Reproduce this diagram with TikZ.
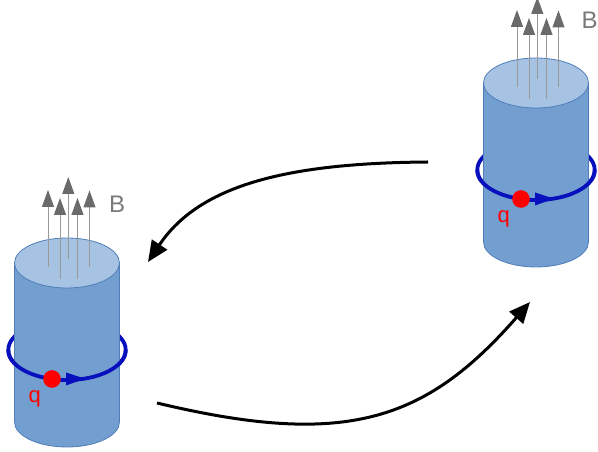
\documentclass[tikz,border=0pt]{standalone}
\usepackage{fontspec}
\setmainfont{Liberation Sans}
\usetikzlibrary{arrows.meta}
\definecolor{cylbody}{HTML}{729FCF}
\definecolor{cyltop}{HTML}{A7C3E4}
\definecolor{cyledge}{HTML}{4F7DBA}
\definecolor{ringblue}{RGB}{8,16,190}
\definecolor{fieldshaft}{HTML}{999999}
\definecolor{fieldhead}{HTML}{6A6A6A}
\definecolor{labelgray}{HTML}{7A7A7A}
\tikzset{
  bodystyle/.style={fill=cylbody, draw=cyledge, line width=0.8pt},
  topstyle/.style={fill=cyltop, draw=cyledge, line width=0.8pt},
  ringstyle/.style={draw=ringblue, line width=3.8pt},
  fieldarrow/.style={draw=fieldshaft, line width=1pt,
    -{Triangle[length=17pt,width=12pt,color=fieldhead]}},
  chargedot/.style={fill=red},
  chargelabel/.style={text=red, font=\fontsize{22}{25}\selectfont, anchor=base west, inner sep=0pt},
  fieldlabel/.style={text=labelgray, font=\fontsize{24}{27}\selectfont, anchor=base west, inner sep=0pt},
  curvearrow/.style={draw=black, line width=3pt, -{Triangle[length=21pt,width=18pt]}},
  magcyl/.pic={
    % back part of the ring
    \draw[ringstyle] (0,102) ellipse [x radius=58.7, y radius=30];
    % body
    \path[bodystyle] (-52.5,189) -- (-52.5,30)
      arc[start angle=180, end angle=360, x radius=52.5, y radius=25]
      -- (52.5,189) -- cycle;
    % top face
    \path[topstyle] (0,189) ellipse [x radius=52.5, y radius=25];
    % front part of the ring
    \draw[ringstyle] (-58.7,102)
      arc[start angle=180, end angle=360, x radius=58.7, y radius=30];
    \fill[ringblue] (-1,79.5) -- (18,73.3) -- (-1,66.5) -- cycle;
    \fill[chargedot] (-15,73) circle [radius=8.8];
    \node[chargelabel] (-q) at (-38.5,49.3) {q};
    % field lines
    \coordinate (-f1s) at (-19,185);  \coordinate (-f1e) at (-19,262);
    \coordinate (-f2s) at (-7,173);   \coordinate (-f2e) at (-7,254);
    \coordinate (-f3s) at (1.3,193);  \coordinate (-f3e) at (1.3,275);
    \coordinate (-f4s) at (10.5,173); \coordinate (-f4e) at (10.5,254);
    \coordinate (-f5s) at (22.5,185); \coordinate (-f5e) at (22.5,261.5);
    \foreach \k in {1,...,5} { \draw[fieldarrow] (-f\k s) -- (-f\k e); }
  }
}
\begin{document}
\begin{tikzpicture}[x=1pt,y=1pt]
  \useasboundingbox (0,0) rectangle (598,452);
  \pic (L) at (67,0) {magcyl};
  \pic (R) at (536,180) {magcyl};
  \node[fieldlabel] (BL) at (109,239.3) {B};
  \node[fieldlabel] (BR) at (581.5,423.7) {B};
  \coordinate (u1) at (428,290);
  \coordinate (u2) at (148,190);
  \coordinate (d1) at (157,49);
  \coordinate (d2) at (530,150);
  \draw[curvearrow] (u1) .. controls (290,289) and (200,268) .. (u2);
  \draw[curvearrow] (d1) .. controls (345,4) and (425,30) .. (d2);
\end{tikzpicture}
\end{document}
